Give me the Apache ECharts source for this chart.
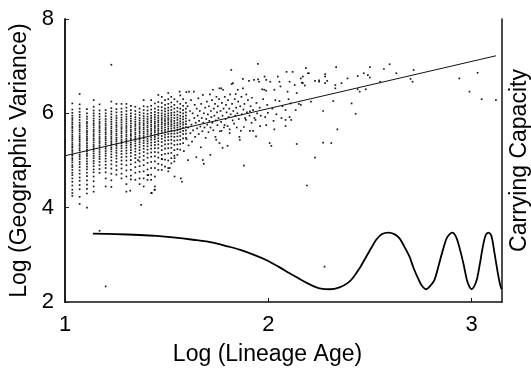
<!DOCTYPE html>
<html><head><meta charset="utf-8">
<script src="https://cdn.jsdelivr.net/npm/echarts@6/dist/echarts.min.js"></script>
<style>html,body{margin:0;padding:0;background:#fff}#c{width:531px;height:370px}</style>
</head><body><div id="c"></div>
<script>
const xTicks = [1, 2, 3];
const yTicks = [2, 4, 6, 8];

// columns of points at discrete lineage ages (x) with their y values
const columnX = [1.036,1.072,1.108,1.141,1.170,1.200,1.228,1.253,1.278,1.302,1.324,1.346,1.367,1.387,1.406,1.424,1.442,1.459,1.476,1.492,1.508,1.523,1.538,1.553,1.567,1.581,1.595];
const columnY = [
[6.21,6.08,6.01,5.95,5.9,5.86,5.81,5.77,5.72,5.69,5.64,5.6,5.55,5.51,5.47,5.43,5.38,5.34,5.3,5.27,5.22,5.18,5.13,5.1,5.05,5.01,4.96,4.9,4.86,4.8,4.74,4.69,4.62,4.55,4.47,4.38,4.31,4.25],
[6.41,6.19,6.1,6.03,5.97,5.92,5.86,5.8,5.75,5.71,5.66,5.62,5.57,5.52,5.48,5.44,5.4,5.35,5.31,5.26,5.22,5.17,5.12,5.08,5.03,4.97,4.92,4.86,4.79,4.72,4.64,4.57,4.48,4.39,4.23,4.08],
[6.09,6.0,5.93,5.88,5.82,5.78,5.73,5.68,5.63,5.59,5.55,5.5,5.46,5.42,5.37,5.32,5.28,5.23,5.19,5.14,5.1,5.04,4.98,4.93,4.87,4.81,4.74,4.67,4.58,4.49,4.4,4.3,4.0],
[6.28,6.14,6.06,6.0,5.95,5.89,5.84,5.79,5.75,5.7,5.65,5.61,5.56,5.52,5.47,5.43,5.38,5.33,5.29,5.25,5.2,5.15,5.1,5.05,4.99,4.94,4.88,4.81,4.75,4.66,4.56,4.45,4.34],
[6.19,6.06,5.99,5.93,5.87,5.82,5.78,5.73,5.69,5.64,5.6,5.55,5.5,5.46,5.41,5.37,5.32,5.28,5.23,5.18,5.13,5.08,5.03,4.97,4.9,4.82,4.74],
[6.07,6.0,5.94,5.88,5.83,5.78,5.74,5.69,5.65,5.6,5.56,5.51,5.47,5.43,5.38,5.34,5.29,5.25,5.2,5.15,5.1,5.04,4.98,4.91,4.84,4.75,4.62,4.45],
[6.25,6.11,6.04,5.98,5.92,5.87,5.82,5.77,5.72,5.68,5.63,5.59,5.55,5.5,5.46,5.41,5.37,5.33,5.28,5.24,5.19,5.13,5.07,5.0,4.92,4.83,4.72,4.58,4.44],
[6.2,6.09,6.02,5.95,5.9,5.85,5.8,5.75,5.71,5.66,5.62,5.57,5.53,5.48,5.44,5.4,5.35,5.31,5.26,5.21,5.16,5.1,5.04,4.97,4.89,4.8,4.7],
[6.2,6.1,6.03,5.97,5.91,5.86,5.81,5.76,5.71,5.67,5.62,5.58,5.53,5.49,5.44,5.4,5.36,5.31,5.26,5.2,5.14,5.07,5.0,4.92,4.83,4.72,4.62],
[6.2,6.12,6.05,5.98,5.93,5.88,5.83,5.78,5.73,5.69,5.64,5.6,5.55,5.51,5.46,5.42,5.37,5.32,5.27,5.21,5.15,5.08,5.0,4.9,4.79,4.66,4.5,4.34],
[6.16,6.07,6.0,5.94,5.89,5.84,5.79,5.74,5.7,5.65,5.61,5.56,5.52,5.47,5.43,5.38,5.33,5.28,5.22,5.16,5.09,5.01,4.92,4.8,4.68,4.6],
[6.14,6.05,5.98,5.92,5.87,5.82,5.77,5.73,5.68,5.64,5.59,5.55,5.5,5.46,5.41,5.36,5.31,5.25,5.19,5.12,5.05,4.96,4.86,4.74,4.59],
[6.1,6.02,5.96,5.9,5.85,5.8,5.76,5.71,5.67,5.62,5.58,5.53,5.49,5.44,5.39,5.34,5.28,5.22,5.15,5.07,4.98,4.88,4.76,4.62,4.5],
[6.28,6.15,6.07,6.0,5.94,5.89,5.84,5.79,5.75,5.7,5.66,5.61,5.57,5.52,5.47,5.42,5.37,5.31,5.25,5.18,5.1,5.01,4.9,4.77,4.62,4.45],
[6.14,6.06,5.99,5.93,5.88,5.83,5.79,5.74,5.7,5.65,5.61,5.56,5.51,5.46,5.41,5.36,5.3,5.23,5.15,5.06,4.95,4.81,4.69,4.59],
[6.28,6.16,6.08,6.01,5.95,5.9,5.85,5.81,5.76,5.72,5.67,5.63,5.58,5.54,5.49,5.44,5.38,5.32,5.25,5.17,5.08,4.97,4.84,4.7,4.59,4.31],
[6.21,6.1,6.03,5.97,5.92,5.87,5.82,5.78,5.73,5.69,5.64,5.6,5.55,5.5,5.45,5.39,5.33,5.26,5.18,5.09,4.98,4.84,4.66,4.45,4.38],
[6.39,6.24,6.14,6.07,6.01,5.95,5.9,5.85,5.81,5.76,5.72,5.67,5.63,5.58,5.53,5.47,5.41,5.34,5.26,5.17,5.06,4.93,4.8],
[6.35,6.22,6.13,6.06,6.0,5.95,5.9,5.86,5.81,5.77,5.72,5.68,5.63,5.58,5.52,5.46,5.39,5.31,5.22,5.12,5.03,4.91,4.8],
[6.28,6.18,6.1,6.04,5.98,5.93,5.88,5.84,5.79,5.75,5.7,5.65,5.6,5.55,5.49,5.42,5.34,5.25,5.14,5.02,4.87],
[6.43,6.3,6.2,6.12,6.06,6.0,5.95,5.9,5.86,5.81,5.77,5.72,5.67,5.62,5.56,5.5,5.43,5.35,5.26,5.15,5.0,4.84,4.77],
[6.35,6.23,6.14,6.07,6.01,5.96,5.91,5.86,5.82,5.77,5.73,5.68,5.63,5.57,5.51,5.44,5.36,5.27,5.16,5.05,4.94],
[6.3,6.18,6.1,6.02,5.96,5.9,5.84,5.79,5.74,5.69,5.63,5.57,5.5,5.42,5.33,5.22,5.1,4.98],
[6.25,6.12,6.04,5.97,5.91,5.86,5.8,5.75,5.7,5.64,5.58,5.51,5.43,5.34,5.24,5.12],
[6.38,6.2,6.1,6.02,5.95,5.89,5.83,5.78,5.72,5.66,5.6,5.52,5.44,5.35,5.23],
[6.3,6.16,6.07,6.0,5.93,5.87,5.81,5.76,5.7,5.63,5.56,5.47,5.37],
[6.22,6.1,6.02,5.95,5.89,5.83,5.77,5.71,5.64,5.57,5.48]
];

// scattered points [x, y]
const loosePoints = [
[1.228,7.03],[1.20,2.33],[1.17,3.51],[2.277,2.75],[1.375,4.06],[1.44,4.38],[1.427,4.31],[1.41,4.69],[1.321,4.36],[1.515,4.84],[1.359,5.01],[1.477,5.03],
[1.539,5.05],[1.539,4.66],[1.564,6.46],[1.57,4.62],[1.575,4.55],[1.585,5.2],[1.597,6.45],[1.598,5.45],[1.603,6.15],[1.605,5.01],[1.606,5.7],[1.608,5.32],[1.61,6.46],[1.612,5.85],[1.615,6.05],[1.617,5.58],[1.62,6.28],[1.622,5.76],[1.625,5.4],[1.628,6.0],[1.63,5.64],[1.634,6.46],[1.636,5.9],[1.638,6.18],[1.64,5.5],[1.643,5.8],[1.646,5.07],[1.648,6.1],[1.65,5.68],[1.653,5.95],[1.656,6.32],[1.658,5.56],[1.66,5.84],[1.663,6.05],[1.666,5.72],[1.668,5.28],[1.67,6.2],[1.673,5.9],[1.676,5.62],[1.678,6.39],[1.678,5.01],[1.68,5.8],[1.683,4.93],[1.683,6.0],[1.686,5.7],[1.69,6.12],[1.692,5.48],[1.695,5.88],[1.698,6.25],[1.7,5.76],[1.703,5.98],[1.706,5.6],[1.708,6.15],[1.71,5.84],[1.713,6.4],[1.715,5.12],[1.716,5.7],[1.718,6.05],[1.72,5.92],[1.723,6.28],[1.725,5.8],[1.728,6.5],[1.73,5.64],[1.732,6.1],[1.735,5.95],[1.738,6.2],[1.74,5.5],[1.742,5.85],[1.744,5.44],[1.745,6.35],[1.748,6.02],[1.75,5.75],
[1.752,6.15],[1.755,5.9],[1.758,6.3],[1.76,6.53],[1.76,5.37],[1.762,5.62],[1.765,6.05],[1.768,5.82],[1.769,6.53],[1.77,5.63],[1.772,6.22],[1.775,5.27],[1.775,5.95],[1.778,6.5],[1.78,6.1],[1.782,5.7],[1.785,5.75],[1.786,6.35],[1.79,5.88],[1.792,6.18],[1.795,6.02],[1.8,5.73],[1.8,5.31],[1.802,6.28],[1.805,5.92],[1.808,6.1],[1.81,5.66],[1.81,5.58],[1.812,6.4],[1.815,5.98],[1.818,6.92],[1.82,6.62],[1.822,6.2],[1.825,5.85],[1.826,6.64],[1.828,6.05],[1.832,5.78],[1.835,6.3],[1.838,5.95],[1.84,6.41],[1.842,6.12],[1.845,5.7],[1.848,6.0],[1.85,6.5],[1.852,6.25],[1.855,5.88],[1.858,5.5],[1.86,5.44],[1.862,6.15],[1.865,5.63],[1.868,6.35],[1.87,5.98],[1.875,6.73],[1.875,6.53],[1.878,6.08],[1.88,5.71],[1.88,4.89],[1.883,6.2],[1.886,5.9],[1.89,5.86],[1.892,6.4],[1.895,6.02],[1.9,6.28],[1.905,6.69],[1.908,5.95],[1.91,5.63],[1.91,6.04],[1.913,6.15],[1.918,5.8],[1.92,6.33],[1.925,5.63],[1.925,6.07],[1.93,6.71],[1.932,5.9],[1.937,5.86],[1.94,5.51],[1.942,6.22],[1.945,6.0],[1.949,7.05],[1.95,6.72],[1.955,6.67],[1.958,6.12],[1.96,5.73],[1.963,5.95],[1.97,6.51],[1.975,6.3],[1.98,6.5],[1.982,6.78],[1.985,5.92],[1.99,6.48],[1.99,5.75],[1.99,6.71],[1.995,6.18],[1.998,6.01],
[2.007,5.37],[2.01,6.67],[2.015,5.31],[2.02,6.1],[2.026,5.84],[2.03,6.5],[2.03,5.66],[2.035,6.28],[2.04,5.98],[2.047,6.78],[2.055,6.67],[2.055,6.26],[2.06,6.57],[2.065,5.9],[2.07,6.15],[2.085,6.07],[2.085,5.86],[2.085,5.73],[2.09,6.88],[2.095,6.46],[2.1,6.3],[2.105,6.67],[2.105,5.92],[2.11,6.21],[2.113,5.86],[2.12,6.88],[2.13,6.6],[2.135,6.07],[2.14,6.43],[2.14,5.35],[2.15,6.2],[2.16,6.74],[2.16,6.18],[2.165,6.65],[2.17,6.78],[2.17,6.64],[2.18,6.59],[2.185,6.96],[2.19,4.47],[2.195,6.85],[2.2,6.85],[2.21,6.25],[2.23,6.69],[2.23,5.06],[2.25,6.67],[2.25,6.7],[2.27,6.05],[2.27,5.38],[2.28,6.83],[2.28,6.78],[2.28,6.64],[2.29,6.69],[2.31,5.37],[2.32,6.26],[2.33,6.6],[2.33,6.53],[2.334,6.98],[2.34,5.66],[2.36,6.64],[2.39,6.74],[2.41,6.21],[2.43,5.99],[2.44,6.79],[2.44,6.51],[2.45,6.46],[2.47,6.85],[2.48,6.51],[2.49,6.81],[2.5,6.98],[2.5,6.76],[2.55,6.67],[2.569,6.94],[2.597,7.04],[2.63,6.85],[2.715,6.92],[2.70,6.73],[2.71,6.67],[2.94,6.74],[3.03,6.86],[2.99,6.46],[3.05,6.30],[3.12,6.28]
];

// regression line
const fitX = [1.0, 3.12];
const fitY = [5.10, 7.22];

// carrying capacity curve
const capX = [1.137,1.25,1.367,1.45,1.531,1.63,1.728,1.80,1.859,1.93,1.99,2.05,2.105,2.15,2.187,2.225,2.252,2.302,2.351,2.39,2.416,2.45,2.482,2.51,2.531,2.56,2.592,2.62,2.646,2.67,2.695,2.715,2.736,2.755,2.777,2.795,2.818,2.84,2.859,2.88,2.905,2.925,2.944,2.962,2.977,2.99,3.001,3.013,3.026,3.04,3.056,3.07,3.084,3.098,3.113,3.128,3.14,3.148];
const capY = [3.45,3.44,3.42,3.40,3.37,3.32,3.26,3.18,3.11,3.0,2.89,2.75,2.61,2.5,2.41,2.33,2.29,2.27,2.31,2.40,2.51,2.72,2.96,3.17,3.32,3.44,3.47,3.44,3.35,3.17,2.96,2.72,2.51,2.35,2.27,2.33,2.47,2.80,3.10,3.37,3.47,3.37,3.10,2.78,2.47,2.32,2.27,2.33,2.47,2.78,3.18,3.42,3.47,3.40,3.04,2.65,2.38,2.27];

const scatterData = [];
columnX.forEach((x, i) => columnY[i].forEach(y => scatterData.push([x, y])));
loosePoints.forEach(p => scatterData.push(p));

const FONT = 'Liberation Sans, Arial, Helvetica, sans-serif';
const chart = echarts.init(document.getElementById('c'), null, {renderer: 'canvas'});
chart.setOption({
  animation: false,
  backgroundColor: '#fff',
  grid: {left: 65, right: 29, top: 19, bottom: 68, containLabel: false, outerBoundsMode: 'none'},
  xAxis: {
    type: 'value', min: 1, max: 3.15, interval: 1,
    name: 'Log (Lineage Age)', nameLocation: 'middle', nameGap: 41,
    nameTextStyle: {fontSize: 23, color: '#000', fontFamily: FONT, padding: [0, 32, 0, 0]},
    axisLine: {lineStyle: {color: '#111', width: 1.5}},
    axisTick: {inside: true, length: 4, customValues: xTicks, lineStyle: {color: '#111'}},
    axisLabel: {fontSize: 22, color: '#000', fontFamily: FONT, margin: 12, customValues: xTicks},
    splitLine: {show: false}
  },
  yAxis: [{
    type: 'value', min: 2, max: 8, interval: 2,
    name: 'Log (Geographic Variance)', nameLocation: 'middle', nameGap: 32,
    nameTextStyle: {fontSize: 23, color: '#000', fontFamily: FONT},
    axisLine: {lineStyle: {color: '#222', width: 2}},
    axisTick: {inside: true, length: 4, customValues: yTicks, lineStyle: {color: '#222'}},
    axisLabel: {fontSize: 22, color: '#000', fontFamily: FONT, margin: 11, customValues: yTicks},
    splitLine: {show: false}
  }, {
    type: 'value', min: 2, max: 8, position: 'right',
    name: 'Carrying Capacity', nameLocation: 'middle', nameGap: 6, nameRotate: 90,
    nameTextStyle: {fontSize: 23, color: '#000', fontFamily: FONT, verticalAlign: 'top'},
    axisLine: {show: true, lineStyle: {color: '#111', width: 1.5}},
    axisTick: {show: false}, axisLabel: {show: false}, splitLine: {show: false}
  }],
  series: [{
    type: 'scatter', data: scatterData, symbol: 'rect', symbolSize: 1.7,
    itemStyle: {color: '#000', opacity: 0.9}, silent: true
  }, {
    type: 'line', data: fitX.map((x, i) => [x, fitY[i]]), showSymbol: false,
    lineStyle: {color: '#111', width: 1}, silent: true
  }, {
    type: 'line', data: capX.map((x, i) => [x, capY[i]]), showSymbol: false, smooth: 0.3,
    lineStyle: {color: '#000', width: 1.8}, silent: true
  }]
});
</script></body></html>
